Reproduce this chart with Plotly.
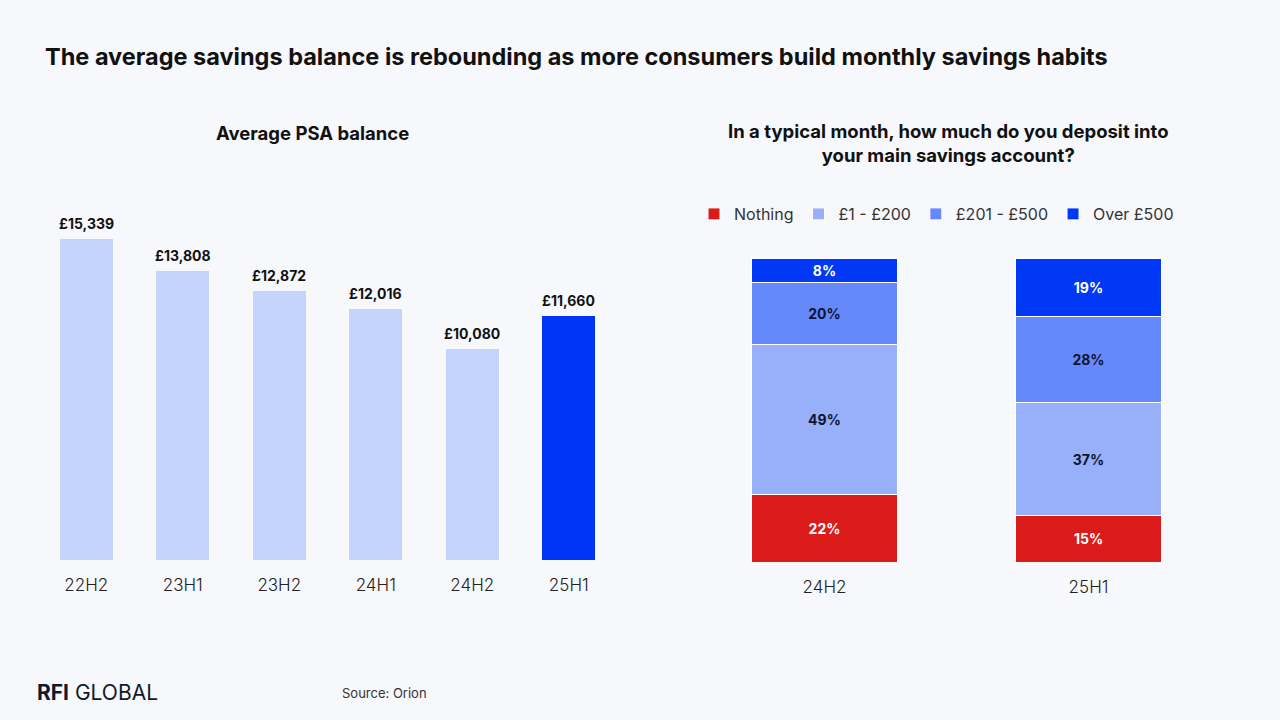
import plotly.graph_objects as go

# ---------------- data ----------------
periods_left = ["22H2", "23H1", "23H2", "24H1", "24H2", "25H1"]
psa_balance = [15339, 13808, 12872, 12016, 10080, 11660]

periods_right = ["24H2", "25H1"]
deposit_bands = ["Nothing", "£1 - £200", "£201 - £500", "Over £500"]
deposit_values = {
    "Nothing": [22, 15],
    "£1 - £200": [49, 37],
    "£201 - £500": [20, 28],
    "Over £500": [8, 19],
}

# ---------------- style ----------------
BG = "#F7F8FC"
FONT = "Inter"
DARK = "#111111"
NAVY = "#0E1530"
band_colors = {
    "Nothing": "#DA1B1A",
    "£1 - £200": "#98AFFA",
    "£201 - £500": "#6589FA",
    "Over £500": "#0038F5",
}
band_text_colors = {
    "Nothing": "white",
    "£1 - £200": NAVY,
    "£201 - £500": NAVY,
    "Over £500": "white",
}
left_colors = ["#C5D4FC"] * 5 + ["#0035F5"]

fig = go.Figure()

# left chart
fig.add_trace(go.Bar(
    x=periods_left, y=psa_balance, marker=dict(color=left_colors, line=dict(width=0)),
    width=0.55, xaxis="x", yaxis="y", showlegend=False, hoverinfo="x+y",
))

# right chart
for band in deposit_bands:
    fig.add_trace(go.Bar(
        x=periods_right, y=deposit_values[band], name=band,
        marker=dict(color=band_colors[band], line=dict(color="white", width=1)),
        width=0.55, xaxis="x2", yaxis="y2",
        text=[f"{v}%" for v in deposit_values[band]],
        textposition="inside", insidetextanchor="middle", textangle=0,
        constraintext="none",
        textfont=dict(family=FONT, size=14, color=band_text_colors[band], weight="bold"),
    ))

annotations = []
for p, v in zip(periods_left, psa_balance):
    annotations.append(dict(
        x=p, y=v, xref="x", yref="y", text=f"<b>£{v:,}</b>", showarrow=False,
        yanchor="bottom", yshift=5, font=dict(family=FONT, size=14, color=DARK),
    ))

annotations += [
    dict(x=43 / 1280, y=1 - 57 / 720, xref="paper", yref="paper", xanchor="left", yanchor="middle",
         text="<b>The average savings balance is rebounding as more consumers build monthly savings habits</b>",
         showarrow=False, font=dict(family=FONT, size=23.5, color=DARK)),
    dict(x=312 / 1280, y=1 - 133 / 720, xref="paper", yref="paper", xanchor="center", yanchor="middle",
         text="<b>Average PSA balance</b>", showarrow=False, font=dict(family=FONT, size=18.5, color=DARK)),
    dict(x=948 / 1280, y=1 - 143 / 720, xref="paper", yref="paper", xanchor="center", yanchor="middle",
         text="<b>In a typical month, how much do you deposit into<br>your main savings account?</b>",
         showarrow=False, font=dict(family=FONT, size=18.5, color=DARK)),
    dict(x=35 / 1280, y=1 - 692 / 720, xref="paper", yref="paper", xanchor="left", yanchor="middle",
         text="<b>RFI</b> GLOBAL", showarrow=False, font=dict(family=FONT, size=21, color="#111A2B")),
    dict(x=340 / 1280, y=1 - 693 / 720, xref="paper", yref="paper", xanchor="left", yanchor="middle",
         text="Source: Orion", showarrow=False, font=dict(family=FONT, size=13, color="#333333")),
]

axis_common = dict(showgrid=False, zeroline=False, showline=False, fixedrange=True)
tickfont = dict(family=FONT, size=17, color="#222222", weight=300)

fig.update_layout(
    width=1280, height=720, paper_bgcolor=BG, plot_bgcolor=BG,
    margin=dict(l=0, r=0, t=0, b=0),
    barmode="stack",
    font=dict(family=FONT, color=DARK),
    xaxis=dict(domain=[38 / 1280, 617 / 1280], anchor="y", ticks="outside", ticklen=10,
               tickcolor="rgba(0,0,0,0)", tickfont=tickfont, **axis_common),
    yaxis=dict(domain=[160 / 720, 520 / 720], anchor="x", range=[0, 17200], visible=False, **axis_common),
    xaxis2=dict(domain=[692.5 / 1280, 1220.5 / 1280], anchor="y2", ticks="outside", ticklen=10,
                tickcolor="rgba(0,0,0,0)", tickfont=tickfont, **axis_common),
    yaxis2=dict(domain=[158 / 720, 520 / 720], anchor="x2", range=[0, 117.9], visible=False, **axis_common),
    legend=dict(orientation="h", x=694 / 1280, y=1 - 214 / 720, xanchor="left", yanchor="middle",
                font=dict(family=FONT, size=16, color="#333333"), bgcolor="rgba(0,0,0,0)",
                traceorder="normal", itemwidth=30),
    annotations=annotations,
)

fig.write_html("out.html")
